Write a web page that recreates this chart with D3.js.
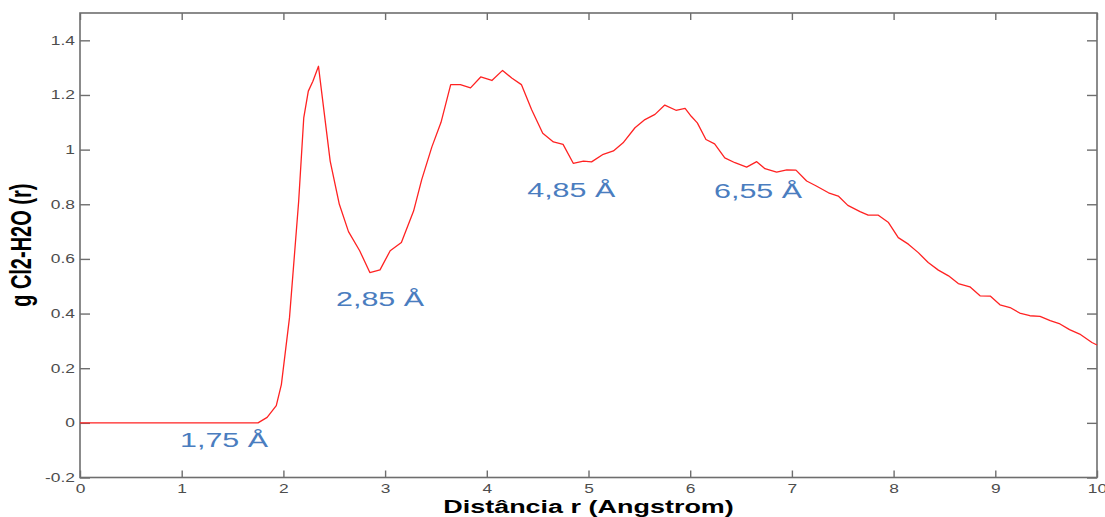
<!DOCTYPE html>
<html>
<head>
<meta charset="utf-8">
<script src="https://cdn.jsdelivr.net/npm/d3@7"></script>
<style>
  body { margin: 0; background: #fff; }
  svg { display: block; }
</style>
</head>
<body>
<div id="wrapper"></div>
<script>
// g(r) Cl2-H2O
const rValues = [0, 1.75, 1.84, 1.93, 1.98, 2.06, 2.15, 2.20, 2.245, 2.29,
  2.345, 2.375, 2.46, 2.55, 2.64, 2.75, 2.85, 2.95, 3.05, 3.16,
  3.28, 3.36, 3.46, 3.55, 3.645, 3.74, 3.84, 3.94, 4.05, 4.155,
  4.245, 4.34, 4.44, 4.55, 4.655, 4.75, 4.85, 4.95, 5.03, 5.145,
  5.245, 5.34, 5.457, 5.555, 5.654, 5.75, 5.86, 5.95, 6.01, 6.07,
  6.155, 6.24, 6.34, 6.44, 6.555, 6.654, 6.735, 6.85, 6.95, 7.04,
  7.145, 7.24, 7.36, 7.456, 7.55, 7.67, 7.75, 7.85, 7.95, 8.046,
  8.145, 8.243, 8.34, 8.44, 8.54, 8.636, 8.75, 8.85, 8.95, 9.046,
  9.145, 9.24, 9.34, 9.44, 9.54, 9.636, 9.73, 9.83, 9.95, 10];
const gValues = [0, 0, 0.02, 0.063, 0.14, 0.385, 0.81, 1.116, 1.214, 1.25,
  1.305, 1.214, 0.958, 0.80, 0.70, 0.63, 0.55, 0.56, 0.63, 0.66,
  0.775, 0.89, 1.01, 1.10, 1.238, 1.238, 1.226, 1.266, 1.253, 1.29,
  1.262, 1.238, 1.147, 1.06, 1.028, 1.019, 0.95, 0.958, 0.955, 0.983,
  0.995, 1.025, 1.08, 1.11, 1.129, 1.163, 1.144, 1.151, 1.122, 1.098,
  1.037, 1.021, 0.97, 0.952, 0.936, 0.956, 0.93, 0.918, 0.926, 0.925,
  0.885, 0.867, 0.842, 0.83, 0.796, 0.773, 0.76, 0.76, 0.733, 0.678,
  0.654, 0.623, 0.587, 0.559, 0.538, 0.51, 0.498, 0.465, 0.464, 0.432,
  0.422, 0.402, 0.392, 0.39, 0.374, 0.362, 0.341, 0.325, 0.294, 0.285];

const xTicks = [0, 1, 2, 3, 4, 5, 6, 7, 8, 9, 10];
const yTicks = [-0.2, 0, 0.2, 0.4, 0.6, 0.8, 1, 1.2, 1.4];
const yTickLabels = ["-0.2", "0", "0.2", "0.4", "0.6", "0.8", "1", "1.2", "1.4"];

// peak / minimum labels and where they sit (data units)
const noteLabels = ["1,75 Å", "2,85 Å", "4,85 Å", "6,55 Å"];
const noteR = [1.416, 2.95, 4.83, 6.667];
const noteG = [-0.09, 0.428, 0.827, 0.823];

const xLabel = "Distância r (Angstrom)";
const yLabel = "g Cl2-H2O (r)";

const data = d3.zip(rValues, gValues).map(([r, g]) => ({ r, g }));
const notes = noteLabels.map((t, i) => ({ t, r: noteR[i], g: noteG[i] }));

// the reference is stretched sideways, so text gets widened too
const stretch = 1.45;

let dimensions = {
  width: 1105,
  height: 517,
  margin: { top: 13, right: 8, bottom: 39.5, left: 80 },
};
dimensions.boundedWidth =
  dimensions.width - dimensions.margin.left - dimensions.margin.right;
dimensions.boundedHeight =
  dimensions.height - dimensions.margin.top - dimensions.margin.bottom;

const svg = d3
  .select("#wrapper")
  .append("svg")
  .attr("width", dimensions.width)
  .attr("height", dimensions.height)
  .style("font-family", "Liberation Sans, Arial, sans-serif");

const bounds = svg
  .append("g")
  .attr("transform", `translate(${dimensions.margin.left},${dimensions.margin.top})`);

const xScale = d3.scaleLinear().domain([0, 10]).range([0, dimensions.boundedWidth]);
const yScale = d3.scaleLinear().domain([-0.2, 1.5]).range([dimensions.boundedHeight, 0]);

const axisColor = "#6e6e6e";
const labelColor = "#4d4d4d";

// bottom axis, ticks pointing inward
const xAxis = bounds
  .append("g")
  .attr("transform", `translate(0,${dimensions.boundedHeight})`)
  .call(d3.axisBottom(xScale).tickValues(xTicks).tickSize(-7).tickSizeOuter(0).tickPadding(6.5).tickFormat(d3.format("d")));

const yAxis = bounds
  .append("g")
  .call(
    d3.axisLeft(yScale)
      .tickValues(yTicks)
      .tickSize(-10)
      .tickSizeOuter(0)
      .tickPadding(3.5)
      .tickFormat((d, i) => yTickLabels[i])
  );

const topAxis = bounds
  .append("g")
  .call(d3.axisTop(xScale).tickValues(xTicks).tickSize(-7).tickSizeOuter(0).tickFormat(""));

const rightAxis = bounds
  .append("g")
  .attr("transform", `translate(${dimensions.boundedWidth},0)`)
  .call(d3.axisRight(yScale).tickValues(yTicks).tickSize(-10).tickSizeOuter(0).tickFormat(""));

[xAxis, yAxis, topAxis, rightAxis].forEach((ax) => {
  ax.select(".domain").remove();
  ax.selectAll(".tick line").attr("stroke", axisColor).attr("stroke-width", 1.4);
  ax.selectAll("text")
    .attr("fill", labelColor)
    .style("font-size", "12px")
    .attr("transform", `scale(${stretch},1)`);
});

bounds
  .append("rect")
  .attr("width", dimensions.boundedWidth)
  .attr("height", dimensions.boundedHeight)
  .attr("fill", "none")
  .attr("stroke", axisColor)
  .attr("stroke-width", 1.6);

const lineGenerator = d3
  .line()
  .x((d) => xScale(d.r))
  .y((d) => yScale(d.g));

bounds
  .append("path")
  .attr("d", lineGenerator(data))
  .attr("fill", "none")
  .attr("stroke", "#ff2222")
  .attr("stroke-width", 1.3)
  .attr("stroke-linejoin", "round");

bounds
  .selectAll(".note")
  .data(notes)
  .join("text")
  .attr("class", "note")
  .attr("transform", (d) => `translate(${xScale(d.r)},${yScale(d.g)}) scale(${stretch},1)`)
  .attr("text-anchor", "middle")
  .attr("fill", "#4a7dbf")
  .style("font-size", "21px")
  .text((d) => d.t);

svg
  .append("text")
  .attr("transform", `translate(${dimensions.margin.left + dimensions.boundedWidth / 2},512.5) scale(${stretch},1)`)
  .attr("text-anchor", "middle")
  .attr("fill", "black")
  .style("font-size", "18.6px")
  .style("font-weight", "bold")
  .text(xLabel);

svg
  .append("text")
  .attr("transform", `translate(31,${dimensions.margin.top + dimensions.boundedHeight / 2}) scale(${stretch},1) rotate(-90)`)
  .attr("text-anchor", "middle")
  .attr("fill", "black")
  .style("font-size", "20px")
  .style("font-weight", "bold")
  .text(yLabel);
</script>
</body>
</html>
